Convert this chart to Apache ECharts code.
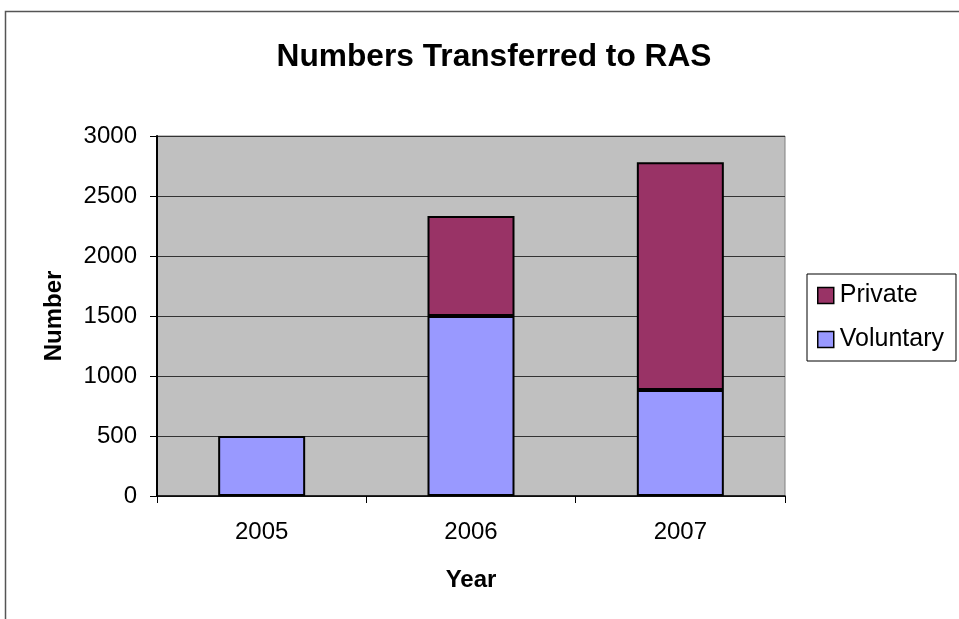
<!DOCTYPE html>
<html>
<head>
<meta charset="utf-8">
<script src="https://cdn.jsdelivr.net/npm/echarts@6/dist/echarts.min.js"></script>
<style>
  html, body { margin: 0; padding: 0; background: #fff; }
  #chart { width: 959px; height: 619px; }
</style>
</head>
<body>
<div id="chart"></div>
<script>
// Transfers to RAS by year, split by sector
const years = ['2005', '2006', '2007'];
const voluntary = [500, 1500, 883];
const privateSector = [0, 833, 1898];
const yTicks = { min: 0, max: 3000, interval: 500 };

const chart = echarts.init(document.getElementById('chart'));
const FONT = 'Liberation Sans, Arial, sans-serif';

chart.setOption({
  backgroundColor: '#ffffff',
  animation: false,
  textStyle: { fontFamily: FONT, color: '#000' },
  title: {
    text: 'Numbers Transferred to RAS',
    left: 489,
    textAlign: 'center',
    top: 36,
    textStyle: { fontFamily: FONT, fontSize: 31.7, fontWeight: 'bold', color: '#000' }
  },
  graphic: [{
    type: 'rect',
    silent: true,
    shape: { x: 5.5, y: 11.5, width: 1000, height: 700 },
    style: { fill: 'none', stroke: '#555', lineWidth: 1.5 }
  }],
  legend: {
    orient: 'vertical',
    left: 807,
    top: 274,
    padding: [9, 12, 9, 10],
    itemGap: 19,
    itemWidth: 16,
    itemHeight: 16,
    icon: 'rect',
    borderColor: '#000',
    borderWidth: 1,
    data: ['Private', 'Voluntary'],
    itemStyle: { borderColor: '#000', borderWidth: 1.5 },
    textStyle: { fontFamily: FONT, fontSize: 25, color: '#000', lineHeight: 24, padding: [0, 0, 0, 1] }
  },
  grid: {
    left: 157, right: 174, top: 136, bottom: 123,
    show: true,
    backgroundColor: '#c0c0c0',
    borderColor: '#808080',
    borderWidth: 1
  },
  xAxis: {
    type: 'category',
    data: years,
    name: 'Year',
    nameLocation: 'middle',
    nameGap: 84,
    nameTextStyle: { fontFamily: FONT, fontSize: 24, fontWeight: 'bold', color: '#000', verticalAlign: 'middle' },
    axisLine: { lineStyle: { color: '#000', width: 1.5 } },
    axisTick: { show: true, alignWithLabel: false, length: 7, lineStyle: { color: '#000', width: 1 } },
    axisLabel: { fontFamily: FONT, fontSize: 24, color: '#000', margin: 24 }
  },
  yAxis: {
    type: 'value',
    min: yTicks.min,
    max: yTicks.max,
    interval: yTicks.interval,
    name: 'Number',
    nameLocation: 'middle',
    nameGap: 103,
    nameRotate: 90,
    nameTextStyle: { fontFamily: FONT, fontSize: 24, fontWeight: 'bold', color: '#000', verticalAlign: 'middle' },
    axisLine: { show: true, lineStyle: { color: '#000', width: 2 } },
    axisTick: { show: true, length: 7, lineStyle: { color: '#000', width: 1 } },
    axisLabel: { fontFamily: FONT, fontSize: 24, color: '#000', margin: 20, formatter: v => String(v) },
    splitLine: { show: true, lineStyle: { color: '#333', width: 1 } }
  },
  series: [
    {
      name: 'Voluntary',
      type: 'bar',
      stack: 'total',
      barWidth: 87,
      data: voluntary,
      itemStyle: { color: '#9999ff', borderColor: '#000', borderWidth: 2 }
    },
    {
      name: 'Private',
      type: 'bar',
      stack: 'total',
      barWidth: 87,
      data: privateSector.map(v => (v === 0 ? null : v)),
      itemStyle: { color: '#993366', borderColor: '#000', borderWidth: 2 }
    }
  ]
});
</script>
</body>
</html>
